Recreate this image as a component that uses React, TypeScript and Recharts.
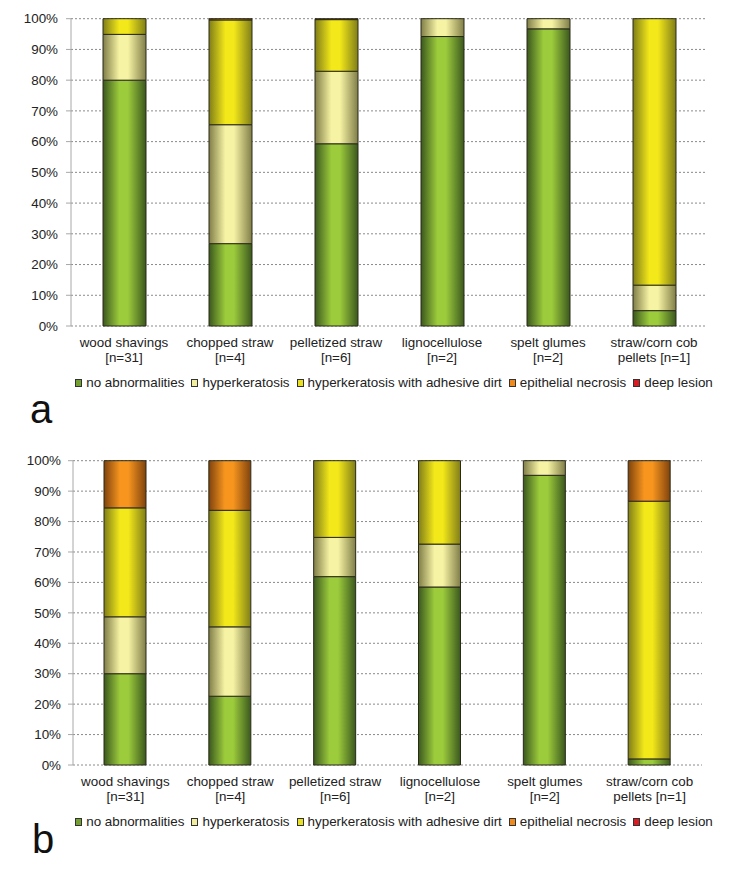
import React from 'react';
import { BarChart, Bar, XAxis, YAxis, CartesianGrid, Legend } from 'recharts';

// ---------- data ----------
const categories = ['wood shavings', 'chopped straw', 'pelletized straw', 'lignocellulose', 'spelt glumes', 'straw/corn cob'];
const categorySubLabels = ['[n=31]', '[n=4]', '[n=6]', '[n=2]', '[n=2]', 'pellets [n=1]'];
const seriesNames = ['no abnormalities', 'hyperkeratosis', 'hyperkeratosis with adhesive dirt', 'epithelial necrosis', 'deep lesion'];
const seriesKeys = ['noAb', 'hk', 'hkDirt', 'necrosis', 'deep'];
const yTicks = [0, 10, 20, 30, 40, 50, 60, 70, 80, 90, 100];
const boundaryTicks = [0, 1, 2, 3, 4, 5, 6];

// chart a
const aNoAbnormalities = [80.0, 26.8, 59.3, 94.2, 96.7, 5.0];
const aHyperkeratosis = [14.9, 38.7, 23.6, 5.8, 3.3, 8.3];
const aHyperkeratosisDirt = [5.1, 34.1, 16.8, 0, 0, 86.7];
const aEpithelialNecrosis = [0, 0.4, 0.3, 0, 0, 0];
const aDeepLesion = [0, 0, 0, 0, 0, 0];

// chart b
const bNoAbnormalities = [30.0, 22.6, 61.9, 58.5, 95.2, 2.0];
const bHyperkeratosis = [18.7, 22.8, 12.9, 14.1, 4.8, 0];
const bHyperkeratosisDirt = [35.8, 38.3, 25.2, 27.4, 0, 84.7];
const bEpithelialNecrosis = [15.5, 16.3, 0, 0, 0, 13.3];
const bDeepLesion = [0, 0, 0, 0, 0, 0];

// ---------- styles ----------
const FONT = '"Liberation Sans", Arial, Helvetica, sans-serif';
const TEXT = '#222222';
const FS = 13.4;
const gradientColors = [
  { edge: '#3b581e', mid: '#9ccb3c' },
  { edge: '#807e48', mid: '#f7f3a4' },
  { edge: '#807e18', mid: '#f3e81a' },
  { edge: '#80430d', mid: '#f7951f' },
  { edge: '#801010', mid: '#e5202a' },
];
const legendColors = ['#73a030', '#f2eea0', '#e8e020', '#ef8a1c', '#d81c24'];

function buildData(series: number[][]) {
  return categories.map((c, i) => {
    const row: any = { cat: c + '\n' + categorySubLabels[i] };
    seriesKeys.forEach((k, j) => {
      row[k] = series[j][i];
    });
    return row;
  });
}

const dataA = buildData([aNoAbnormalities, aHyperkeratosis, aHyperkeratosisDirt, aEpithelialNecrosis, aDeepLesion]);
const dataB = buildData([bNoAbnormalities, bHyperkeratosis, bHyperkeratosisDirt, bEpithelialNecrosis, bDeepLesion]);

const CatTick = (props: any) => {
  const { x, y, payload } = props;
  const parts = String(payload.value).split('\n');
  return (
    <text x={x} y={y} textAnchor="middle" fontSize={FS} fill={TEXT} fontFamily={FONT}>
      <tspan x={x} dy={20.5}>{parts[0]}</tspan>
      <tspan x={x} dy={15.8}>{parts[1]}</tspan>
    </text>
  );
};

const LegendContent = () => (
  <div style={{ display: 'flex', justifyContent: 'center', alignItems: 'center', fontFamily: FONT, fontSize: FS, color: TEXT, whiteSpace: 'nowrap' }}>
    {seriesNames.map((n, i) => (
      <div key={n} style={{ display: 'flex', alignItems: 'center', marginRight: i < seriesNames.length - 1 ? 7 : 0 }}>
        <span style={{ display: 'inline-block', width: 5, height: 6, background: legendColors[i], border: '1px solid #333', marginRight: 4 }} />
        <span>{n}</span>
      </div>
    ))}
  </div>
);

type PanelProps = {
  id: string;
  data: any[];
  top: number;
  marginTop: number;
  marginBottom: number;
  marginRight: number;
  yWidth: number;
  yTickMargin: number;
  barSize: number;
  legendTop: number;
  legendShift: number;
};

const Panel = (p: PanelProps) => (
  <div style={{ position: 'absolute', left: 0, top: p.top }}>
    <BarChart
      width={738}
      height={400}
      data={p.data}
      margin={{ top: p.marginTop, right: p.marginRight, bottom: p.marginBottom, left: 0 }}
      barCategoryGap="0%"
    >
      <defs>
        {gradientColors.map((g, i) => (
          <linearGradient key={i} id={`${p.id}-g${i}`} x1="0" y1="0" x2="1" y2="0">
            <stop offset="0%" stopColor={g.edge} />
            <stop offset="38%" stopColor={g.mid} />
            <stop offset="58%" stopColor={g.mid} />
            <stop offset="100%" stopColor={g.edge} />
          </linearGradient>
        ))}
      </defs>
      <CartesianGrid vertical={false} stroke="#8a8a8a" strokeDasharray="2 2" />
      <XAxis
        xAxisId="t"
        type="number"
        domain={[0, 6]}
        ticks={boundaryTicks}
        tick={false}
        height={0}
        axisLine={{ stroke: '#a8a8a8' }}
        tickLine={{ stroke: '#a8a8a8' }}
        tickSize={5}
      />
      <XAxis
        dataKey="cat"
        height={50}
        axisLine={false}
        tickLine={false}
        tickSize={0}
        tickMargin={0}
        interval={0}
        tick={<CatTick />}
      />
      <YAxis
        width={p.yWidth}
        domain={[0, 100]}
        ticks={yTicks}
        tickFormatter={(v: number) => `${v}%`}
        axisLine={{ stroke: '#a8a8a8' }}
        tickLine={{ stroke: '#a8a8a8' }}
        tickSize={5}
        tickMargin={p.yTickMargin}
        tick={{ fontSize: FS, fill: TEXT, fontFamily: FONT }}
      />
      {seriesKeys.map((k, i) => (
        <Bar
          key={k}
          dataKey={k}
          name={seriesNames[i]}
          stackId="s"
          barSize={p.barSize}
          fill={`url(#${p.id}-g${i})`}
          stroke="#2a2a1a"
          strokeWidth={1}
          isAnimationActive={false}
        />
      ))}
      <Legend
        verticalAlign="middle"
        content={<LegendContent />}
        wrapperStyle={{ top: p.legendTop, left: p.legendShift, width: 738 - p.legendShift }}
      />
    </BarChart>
  </div>
);

export default function App() {
  return (
    <div style={{ position: 'absolute', left: 0, top: 0, width: 738, height: 871, background: '#fff', fontFamily: FONT }}>
      <Panel id="pa" data={dataA} top={0} marginTop={18.7} marginBottom={24} marginRight={31} yWidth={71} yTickMargin={8} barSize={43} legendTop={375} legendShift={50} />
      <Panel id="pb" data={dataB} top={440} marginTop={20.7} marginBottom={25} marginRight={36} yWidth={73} yTickMargin={7} barSize={42} legendTop={374} legendShift={50} />
      <svg width={738} height={871} style={{ position: 'absolute', left: 0, top: 0, pointerEvents: 'none' }}>
        <text x={30} y={423} fontSize={40} fill="#111" fontFamily={FONT}>a</text>
        <text x={32} y={853} fontSize={40} fill="#111" fontFamily={FONT}>b</text>
      </svg>
    </div>
  );
}
